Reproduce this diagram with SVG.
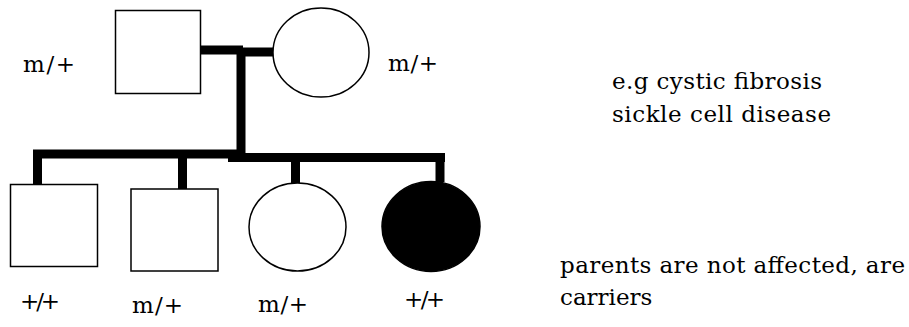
<svg xmlns="http://www.w3.org/2000/svg" width="909" height="327" viewBox="0 0 909 327">
<style>
.sym{fill:#fff;stroke:#000;stroke-width:1.5}
.aff{fill:#000;stroke:#000;stroke-width:1.5}
.ln{stroke:#000;stroke-width:9;fill:none}
.t{font-family:"DejaVu Serif","Liberation Serif",serif;font-size:23px;fill:#000}
</style>
<rect width="909" height="327" fill="#fff"/>
<g id="connectors">
<line class="ln" x1="200" y1="50" x2="243" y2="50"/>
<line class="ln" x1="238" y1="52" x2="276" y2="52"/>
<line class="ln" x1="241" y1="48" x2="241" y2="156"/>
<line class="ln" x1="33" y1="154" x2="243" y2="154"/>
<line class="ln" x1="228" y1="157.5" x2="445" y2="157.5"/>
<line class="ln" x1="37.5" y1="150" x2="37.5" y2="185"/>
<line class="ln" x1="182.5" y1="157" x2="182.5" y2="189"/>
<line class="ln" x1="295.5" y1="157" x2="295.5" y2="183"/>
<line class="ln" x1="440" y1="153" x2="440" y2="182" stroke-width="10"/>
</g>
<g id="father">
<rect class="sym" x="115.5" y="10.5" width="85" height="83"/>
<text class="t" x="23" y="72" textLength="52">m/+</text>
</g>
<g id="mother">
<ellipse class="sym" cx="321" cy="52.5" rx="48" ry="44.5"/>
<text class="t" x="388" y="71" textLength="50">m/+</text>
</g>
<g id="child1">
<rect class="sym" x="10.5" y="184.5" width="87" height="82"/>
<text class="t" x="20" y="309" textLength="40">+/+</text>
</g>
<g id="child2">
<rect class="sym" x="131" y="189" width="87" height="82"/>
<text class="t" x="132" y="313" textLength="51">m/+</text>
</g>
<g id="child3">
<ellipse class="sym" cx="297.5" cy="227" rx="48.5" ry="44"/>
<text class="t" x="258" y="312" textLength="50">m/+</text>
</g>
<g id="child4">
<ellipse class="aff" cx="431" cy="226.5" rx="49" ry="45"/>
<text class="t" x="404" y="307" textLength="41">+/+</text>
</g>
<g id="notes">
<text class="t" x="612" y="89" textLength="210">e.g cystic fibrosis</text>
<text class="t" x="612" y="122" textLength="219">sickle cell disease</text>
<text class="t" x="560" y="273" textLength="345">parents are not affected, are</text>
<text class="t" x="560" y="305">carriers</text>
</g>
</svg>
